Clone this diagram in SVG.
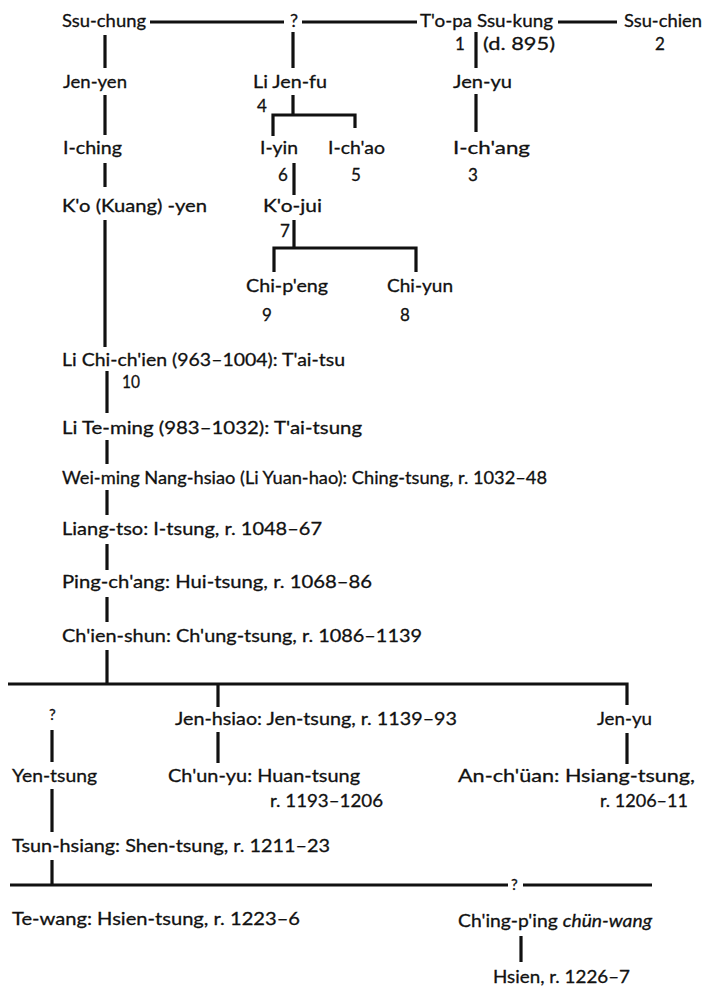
<svg xmlns="http://www.w3.org/2000/svg" width="706" height="986" viewBox="0 0 706 986">
<style>
text{font-family:"Lato","Open Sans","Liberation Sans",sans-serif;font-size:18px;fill:#111;stroke:#111;stroke-width:0.3}
.n{font-size:17px}
.q{font-size:15px}
.c line,.c path{stroke:#111;stroke-width:3.2;fill:none;stroke-linecap:butt}
</style>
<rect width="706" height="986" fill="#fff"/>
<g class="c" id="connectors">
<line x1="150" y1="22" x2="284" y2="22"/>
<line x1="302" y1="22" x2="417" y2="22"/>
<line x1="558" y1="22" x2="617" y2="22"/>
<line x1="476" y1="32" x2="476" y2="68"/>
<line x1="476" y1="94" x2="476" y2="132"/>
<line x1="105" y1="35" x2="105" y2="68"/>
<line x1="105" y1="95" x2="105" y2="135"/>
<line x1="105" y1="163" x2="105" y2="187"/>
<line x1="105" y1="220" x2="105" y2="347"/>
<line x1="293" y1="32" x2="293" y2="68"/>
<path d="M293 95V115M273 136V115H355V128"/>
<line x1="294" y1="163" x2="294" y2="195"/>
<path d="M294 220V248M274 272V248H416V272"/>
<line x1="107" y1="371" x2="107" y2="413"/>
<line x1="107" y1="440" x2="107" y2="464"/>
<line x1="107" y1="490" x2="107" y2="515"/>
<line x1="107" y1="544" x2="107" y2="570"/>
<line x1="107" y1="597" x2="107" y2="622"/>
<line x1="107" y1="650" x2="107" y2="684"/>
<path d="M8 684H627V705M218 684V707"/>
<line x1="52" y1="730" x2="52" y2="762"/>
<line x1="52" y1="789" x2="52" y2="832"/>
<line x1="52" y1="860" x2="52" y2="885"/>
<line x1="218" y1="732" x2="218" y2="763"/>
<line x1="627" y1="733" x2="627" y2="764"/>
<line x1="10" y1="885" x2="508" y2="885"/>
<line x1="523" y1="885" x2="652" y2="885"/>
<line x1="521" y1="936" x2="521" y2="962"/>
</g>
<g id="ssu-chung"><text x="62" y="27" textLength="84" lengthAdjust="spacingAndGlyphs">Ssu-chung</text></g>
<g id="q-top"><text x="290" y="27">?</text></g>
<g id="topa"><text x="420" y="27" textLength="133" lengthAdjust="spacingAndGlyphs">T'o-pa Ssu-kung</text><text class="n" x="455" y="50">1</text><text x="483" y="50" textLength="72" lengthAdjust="spacingAndGlyphs">(d. 895)</text></g>
<g id="ssu-chien"><text x="624" y="27" textLength="78" lengthAdjust="spacingAndGlyphs">Ssu-chien</text><text class="n" x="655" y="50">2</text></g>
<g id="jen-yen"><text x="63" y="88" textLength="64" lengthAdjust="spacingAndGlyphs">Jen-yen</text></g>
<g id="li-jen-fu"><text x="253" y="88" textLength="74" lengthAdjust="spacingAndGlyphs">Li Jen-fu</text><text class="n" x="257" y="112">4</text></g>
<g id="jen-yu-top"><text x="453" y="88" textLength="59" lengthAdjust="spacingAndGlyphs">Jen-yu</text></g>
<g id="i-ching"><text x="63" y="154" textLength="59" lengthAdjust="spacingAndGlyphs">I-ching</text></g>
<g id="i-yin"><text x="260" y="154" textLength="38" lengthAdjust="spacingAndGlyphs">I-yin</text><text class="n" x="278" y="181">6</text></g>
<g id="i-chao"><text x="328" y="154" textLength="57" lengthAdjust="spacingAndGlyphs">I-ch'ao</text><text class="n" x="351" y="181">5</text></g>
<g id="i-chang"><text x="453" y="154" textLength="77" lengthAdjust="spacingAndGlyphs">I-ch'ang</text><text class="n" x="468" y="181">3</text></g>
<g id="ko-yen"><text x="62" y="212" textLength="145" lengthAdjust="spacingAndGlyphs">K'o (Kuang) -yen</text></g>
<g id="ko-jui"><text x="263" y="212" textLength="59" lengthAdjust="spacingAndGlyphs">K'o-jui</text><text class="n" x="280" y="237">7</text></g>
<g id="chi-peng"><text x="246" y="292" textLength="82" lengthAdjust="spacingAndGlyphs">Chi-p'eng</text><text class="n" x="262" y="321">9</text></g>
<g id="chi-yun"><text x="387" y="292" textLength="66" lengthAdjust="spacingAndGlyphs">Chi-yun</text><text class="n" x="400" y="321">8</text></g>
<g id="li-chi-chien"><text x="62" y="366" textLength="283" lengthAdjust="spacingAndGlyphs">Li Chi-ch'ien (963–1004): T'ai-tsu</text><text class="n" x="122" y="388" textLength="18" lengthAdjust="spacingAndGlyphs">10</text></g>
<g id="li-te-ming"><text x="62" y="434" textLength="300" lengthAdjust="spacingAndGlyphs">Li Te-ming (983–1032): T'ai-tsung</text></g>
<g id="wei-ming"><text x="62" y="484" textLength="485" lengthAdjust="spacingAndGlyphs">Wei-ming Nang-hsiao (Li Yuan-hao): Ching-tsung, r. 1032–48</text></g>
<g id="liang-tso"><text x="62" y="535" textLength="260" lengthAdjust="spacingAndGlyphs">Liang-tso: I-tsung, r. 1048–67</text></g>
<g id="ping-chang"><text x="62" y="588" textLength="310" lengthAdjust="spacingAndGlyphs">Ping-ch'ang: Hui-tsung, r. 1068–86</text></g>
<g id="chien-shun"><text x="62" y="642" textLength="360" lengthAdjust="spacingAndGlyphs">Ch'ien-shun: Ch'ung-tsung, r. 1086–1139</text></g>
<g id="q-left"><text class="q" x="49" y="720">?</text></g>
<g id="jen-hsiao"><text x="175" y="725" textLength="282" lengthAdjust="spacingAndGlyphs">Jen-hsiao: Jen-tsung, r. 1139–93</text></g>
<g id="jen-yu-bottom"><text x="597" y="725" textLength="55" lengthAdjust="spacingAndGlyphs">Jen-yu</text></g>
<g id="yen-tsung"><text x="12" y="782" textLength="85" lengthAdjust="spacingAndGlyphs">Yen-tsung</text></g>
<g id="chun-yu"><text x="168" y="782" textLength="192" lengthAdjust="spacingAndGlyphs">Ch'un-yu: Huan-tsung</text><text x="270" y="807" textLength="113" lengthAdjust="spacingAndGlyphs">r. 1193–1206</text></g>
<g id="an-chuan"><text x="458" y="782" textLength="237" lengthAdjust="spacingAndGlyphs">An-ch'üan: Hsiang-tsung,</text><text x="600" y="807" textLength="88" lengthAdjust="spacingAndGlyphs">r. 1206–11</text></g>
<g id="tsun-hsiang"><text x="12" y="852" textLength="318" lengthAdjust="spacingAndGlyphs">Tsun-hsiang: Shen-tsung, r. 1211–23</text></g>
<g id="q-bottom"><text class="q" x="511" y="890">?</text></g>
<g id="te-wang"><text x="12" y="925" textLength="288" lengthAdjust="spacingAndGlyphs">Te-wang: Hsien-tsung, r. 1223–6</text></g>
<g id="ching-ping"><text x="458" y="927" textLength="194" lengthAdjust="spacingAndGlyphs">Ch'ing-p'ing <tspan font-style="italic">chün-wang</tspan></text></g>
<g id="hsien"><text x="493" y="983" textLength="137" lengthAdjust="spacingAndGlyphs">Hsien, r. 1226–7</text></g>
</svg>
